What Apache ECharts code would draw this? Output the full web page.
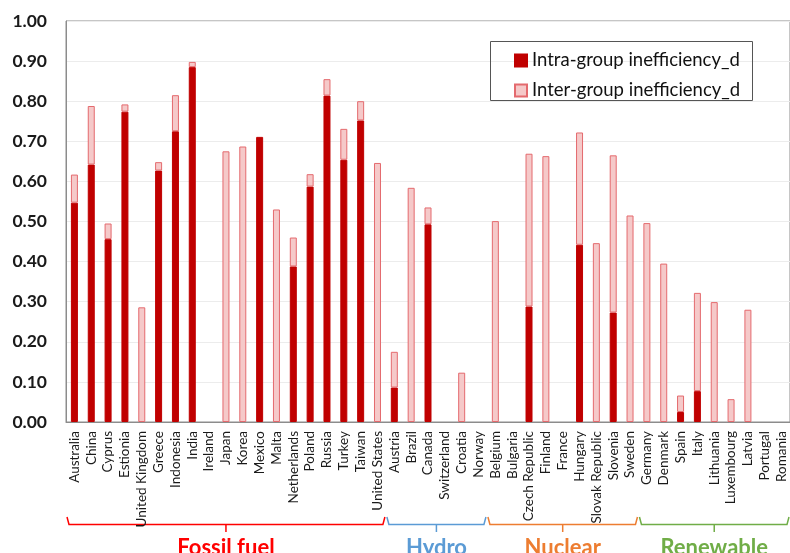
<!DOCTYPE html>
<html>
<head>
<meta charset="utf-8">
<script src="https://cdn.jsdelivr.net/npm/echarts@6/dist/echarts.min.js"></script>
<style>
html,body{margin:0;padding:0;background:#fff;}
#chart{width:790px;height:553px;}
</style>
</head>
<body>
<div id="chart"></div>
<script>
var categories = ["Australia","China","Cyprus","Estionia","United Kingdom","Greece","Indonesia","India","Ireland","Japan","Korea","Mexico","Malta","Netherlands","Poland","Russia","Turkey","Taiwan","United States",
  "Austria","Brazil","Canada","Switzerland","Croatia","Norway",
  "Belgium","Bulgaria","Czech Republic","Finland","France","Hungary","Slovak Republic","Slovenia","Sweden",
  "Germany","Denmark","Spain","Italy","Lithuania","Luxembourg","Latvia","Portugal","Romania"];
var intraGroup = [0.547,0.642,0.456,0.774,null,0.627,0.725,0.885,null,null,null,0.711,null,0.388,0.587,0.814,0.654,0.752,null,
  0.086,null,0.493,null,null,null,
  null,null,0.288,null,null,0.442,null,0.273,null,
  null,null,0.025,0.077,null,null,null,null,null];
var interGroup = [0.070,0.146,0.039,0.018,0.286,0.021,0.090,0.013,null,0.675,0.687,null,0.530,0.072,0.031,0.041,0.077,0.048,0.646,
  0.089,0.584,0.042,null,0.123,null,
  0.501,null,0.381,0.663,null,0.280,0.446,0.392,0.515,
  0.496,0.395,0.041,0.245,0.299,0.057,0.280,null,null];
var yTicks = [0,0.1,0.2,0.3,0.4,0.5,0.6,0.7,0.8,0.9,1.0];
var groupNames = ["Fossil fuel","Hydro","Nuclear","Renewable"];
var groupStart = [0,19,25,34];
var groupEnd = [18,24,33,42];
var groupColors = ["#FF0000","#5B9BD5","#ED7D31","#70AD47"];

var chart = echarts.init(document.getElementById('chart'), null, {renderer:'canvas'});
var option = {
  animation:false,
  backgroundColor:'#fff',
  grid:{left:66, top:21, right:-7, bottom:131, show:true, borderColor:'#8c8c8c', borderWidth:1, containLabel:false},
  legend:{
    left:509, top:46, orient:'vertical', icon:'rect', itemWidth:12, itemHeight:12, itemGap:11,
    textStyle:{fontFamily:'Lato', fontSize:18.5, color:'#111', padding:[0,0,0,0]},
    data:['Intra-group inefficiency_d','Inter-group inefficiency_d']
  },
  xAxis:{
    type:'category', data:categories,
    axisTick:{show:false},
    axisLine:{lineStyle:{color:'#8c8c8c'}},
    axisLabel:{interval:0, rotate:90, margin:9, fontFamily:'Lato', fontSize:13.5, color:'#1a1a1a'}
  },
  yAxis:{
    type:'value', min:0, max:1, interval:0.1,
    axisLine:{show:true, lineStyle:{color:'#8c8c8c'}},
    axisTick:{show:false},
    splitLine:{lineStyle:{color:'#ececec'}},
    axisLabel:{margin:19, fontFamily:'Lato', fontSize:17.5, fontWeight:'bold', color:'#1a1a1a', formatter:function(v){return v.toFixed(2);}}
  },
  series:[
    {name:'Intra-group inefficiency_d', type:'bar', stack:'a', barWidth:7, data:intraGroup,
     itemStyle:{color:'#C00000', borderColor:'#C00000', borderWidth:1}},
    {name:'Inter-group inefficiency_d', type:'bar', stack:'a', barWidth:7, data:interGroup,
     itemStyle:{color:'#F5C9C9', borderColor:'#E46A6E', borderWidth:1}}
  ]
};
chart.setOption(option);

function px(i){ return chart.convertToPixel({xAxisIndex:0}, i); }
var half = (px(1)-px(0))/2;
var gfx = [];
// legend box
gfx.push({type:'rect', shape:{x:490.5, y:41.5, width:262, height:59}, style:{fill:null, stroke:'#555', lineWidth:1}, z:10});
var yTop = 517, yBase = 524.5, yTick = 532;
for (var g=0; g<groupNames.length; g++){
  var x0 = px(groupStart[g]) - half + 1;
  var x1 = px(groupEnd[g]) + half - 1;
  var xc = (x0 + x1)/2;
  gfx.push({type:'polyline', shape:{points:[[x0,yTop],[x0+2,yBase],[x1-2,yBase],[x1,yTop]]}, style:{stroke:groupColors[g], lineWidth:1.5, fill:null}});
  gfx.push({type:'line', shape:{x1:xc, y1:yBase, x2:xc, y2:yTick}, style:{stroke:groupColors[g], lineWidth:1.5}});
  gfx.push({type:'text', x:xc, y:548, style:{text:groupNames[g], fill:groupColors[g], font:'bold 22px Lato', textAlign:'center', textVerticalAlign:'middle'}});
}
chart.setOption({graphic:gfx});
</script>
</body>
</html>
